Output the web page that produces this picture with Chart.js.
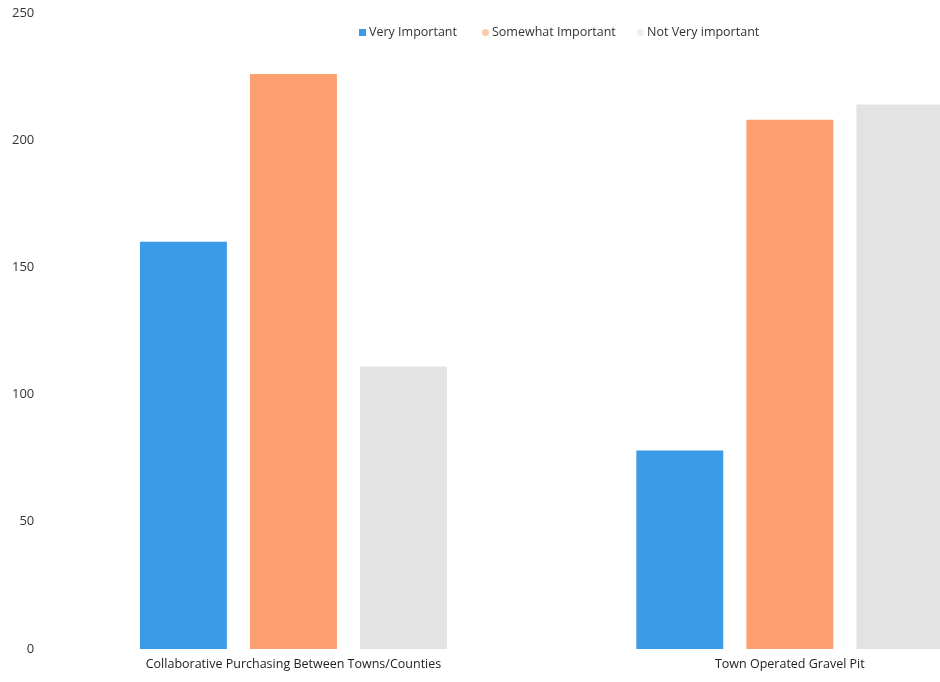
<!DOCTYPE html>
<html>
<head>
<meta charset="utf-8">
<script src="https://cdn.jsdelivr.net/npm/chart.js@4.4.1/dist/chart.umd.min.js"></script>
<style>
  html, body { margin: 0; padding: 0; background: #fff; overflow: hidden; }
  #wrap { position: relative; width: 940px; height: 682px; overflow: hidden; }
  #box { position: absolute; left: 0; top: -6px; width: 1042px; height: 686px; }
  #legend { position: absolute; top: 23px; left: 0; width: 940px; font-family: "Open Sans", sans-serif; font-size: 12.5px; color: #333; }
  #legend span.item { position: absolute; white-space: nowrap; }
  #legend i { display: inline-block; width: 7px; height: 7px; margin-right: 3px; vertical-align: 0px; }
</style>
</head>
<body>
<div id="wrap">
  <div id="box"><canvas id="surveyChart"></canvas></div>
  <div id="legend"></div>
</div>
<script>
const categories = ['Collaborative Purchasing Between Towns/Counties', 'Town Operated Gravel Pit'];
const veryImportant = [160, 78];
const somewhatImportant = [226, 208];
const notVeryImportant = [111, 214];
const seriesNames = ['Very Important', 'Somewhat Important', 'Not Very important'];
const seriesColors = ['#3b9be8', '#fba06e', '#e3e3e3'];
const yTicks = [0, 50, 100, 150, 200, 250];

// legend drawn as html so it can sit inside the plot like in the scan
const legendSpots = [
  { left: 359, dot: false, color: '#3b9be8' },
  { left: 482, dot: true, color: '#fcc9a8' },
  { left: 637, dot: true, color: '#eeeeee' },
];
const legendEl = document.getElementById('legend');
seriesNames.forEach((name, i) => {
  const s = legendSpots[i];
  const item = document.createElement('span');
  item.className = 'item';
  item.style.left = s.left + 'px';
  item.innerHTML = '<i style="background:' + s.color + (s.dot ? ';border-radius:50%' : '') + '"></i>' + name;
  legendEl.appendChild(item);
});

const ctx = document.getElementById('surveyChart').getContext('2d');
const surveyChart = new Chart(ctx, {
  type: 'bar',
  data: {
    labels: categories,
    datasets: [
      { label: seriesNames[0], data: veryImportant, backgroundColor: seriesColors[0] },
      { label: seriesNames[1], data: somewhatImportant, backgroundColor: seriesColors[1] },
      { label: seriesNames[2], data: notVeryImportant, backgroundColor: seriesColors[2] },
    ],
  },
  options: {
    responsive: true,
    maintainAspectRatio: false,
    animation: false,
    categoryPercentage: 0.665,
    barPercentage: 0.79,
    layout: {
      padding: { top: 0, right: 4, bottom: 0, left: 1 },
    },
    plugins: {
      legend: { display: false },
      tooltip: { enabled: false },
    },
    scales: {
      x: {
        grid: { display: false, drawTicks: false },
        border: { display: false },
        ticks: {
          color: '#222',
          padding: 8,
          maxRotation: 0,
          font: { family: 'Open Sans', size: 12.5 },
        },
      },
      y: {
        min: 0,
        max: 250,
        afterBuildTicks: (axis) => {
          axis.ticks = yTicks.map((v) => ({ value: v }));
        },
        grid: { display: false, drawTicks: false },
        border: { display: false },
        ticks: {
          color: '#333',
          padding: 11,
          font: { family: 'Open Sans', size: 13 },
        },
      },
    },
  },
});
</script>
</body>
</html>
